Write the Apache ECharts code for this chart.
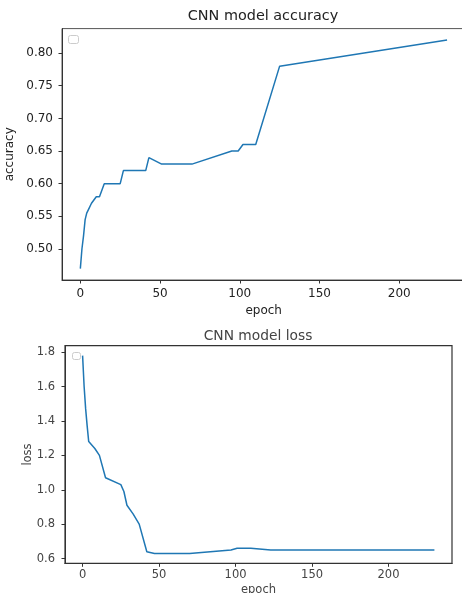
<!DOCTYPE html>
<html>
<head>
<meta charset="utf-8">
<script src="https://cdn.jsdelivr.net/npm/echarts@6/dist/echarts.min.js"></script>
<style>
    html, body { margin: 0; padding: 0; background: #fff; }
    #myChart { width: 462px; height: 593px; }
</style>
</head>
<body>
<div id="myChart"></div>
<script>
// accuracy curve (epoch, value)
var accEpochs = [0, 1, 2, 3, 4, 5, 7, 10, 12, 15, 25, 27, 41, 43, 51, 70, 95, 99, 102, 110, 125, 230];
var accValues = [0.47, 0.50, 0.52, 0.545, 0.555, 0.56, 0.57, 0.58, 0.58, 0.60, 0.60, 0.62, 0.62, 0.64, 0.63, 0.63, 0.65, 0.65, 0.66, 0.66, 0.78, 0.82];

// loss curve
var lossEpochs = [0, 1, 2, 3, 4, 8, 11, 15, 25, 27, 29, 33, 37, 42, 47, 70, 97, 101, 110, 123, 230];
var lossValues = [1.78, 1.60, 1.47, 1.37, 1.28, 1.24, 1.20, 1.07, 1.03, 0.99, 0.91, 0.86, 0.80, 0.64, 0.63, 0.63, 0.65, 0.66, 0.66, 0.65, 0.65];

// tick labels
var epochTicks = [0, 50, 100, 150, 200];
var accTicks = [0.50, 0.55, 0.60, 0.65, 0.70, 0.75, 0.80];
var lossTicks = [0.6, 0.8, 1.0, 1.2, 1.4, 1.6, 1.8];

function pairs(xs, ys) {
    var out = [];
    for (var i = 0; i < xs.length; i++) {
        out.push([xs[i], ys[i]]);
    }
    return out;
}

var font = 'DejaVu Sans';
var blue = '#1f77b4';

var myChart = echarts.init(document.getElementById('myChart'));

var option = {
    animation: false,
    title: [{
        text: 'CNN model accuracy',
        left: 263, top: 9, padding: 0, textAlign: 'center',
        textStyle: { fontFamily: font, fontSize: 14.4, fontWeight: 'normal', color: '#222' }
    }, {
        text: 'CNN model loss',
        left: 258, top: 329, padding: 0, textAlign: 'center',
        textStyle: { fontFamily: font, fontSize: 13.8, fontWeight: 'normal', color: '#444' }
    }],
    grid: [{
        left: 62, top: 28.6, width: 403.4, height: 251.4,
        outerBoundsMode: 'none', containLabel: false,
        show: true, borderColor: '#555', borderWidth: 1
    }, {
        left: 65, top: 345.7, width: 387, height: 217.6,
        outerBoundsMode: 'none', containLabel: false,
        show: true, borderColor: '#333', borderWidth: 1.2
    }],
    xAxis: [{
        type: 'value', gridIndex: 0, min: -11.5, max: 241.5,
        name: 'epoch', nameLocation: 'middle', nameGap: 25,
        nameTextStyle: { fontFamily: font, fontSize: 12, color: '#222' },
        splitLine: { show: false },
        axisLine: { show: true, onZero: false, lineStyle: { color: '#333' } },
        axisTick: { show: true, length: 3.5, customValues: epochTicks, lineStyle: { color: '#333' } },
        axisLabel: { customValues: epochTicks, margin: 8, fontFamily: font, fontSize: 12, color: '#222' }
    }, {
        type: 'value', gridIndex: 1, min: -11.5, max: 241.5,
        name: 'epoch', nameLocation: 'middle', nameGap: 21,
        nameTextStyle: { fontFamily: font, fontSize: 11.5, color: '#444' },
        splitLine: { show: false },
        axisLine: { show: true, onZero: false, lineStyle: { color: '#333' } },
        axisTick: { show: true, length: 3.5, customValues: epochTicks, lineStyle: { color: '#333' } },
        axisLabel: { customValues: epochTicks, margin: 6, fontFamily: font, fontSize: 11.5, color: '#444' }
    }],
    yAxis: [{
        type: 'value', gridIndex: 0, min: 0.4525, max: 0.8375,
        name: 'accuracy', nameLocation: 'middle', nameGap: 46, nameRotate: 90,
        nameTextStyle: { fontFamily: font, fontSize: 12, color: '#222' },
        splitLine: { show: false },
        axisLine: { show: true, onZero: false, lineStyle: { color: '#333' } },
        axisTick: { show: true, length: 3.5, customValues: accTicks, lineStyle: { color: '#333' } },
        axisLabel: {
            customValues: accTicks, margin: 9, fontFamily: font, fontSize: 12, color: '#222',
            formatter: function (v) { return v.toFixed(2); }
        }
    }, {
        type: 'value', gridIndex: 1, min: 0.5725, max: 1.8375,
        name: 'loss', nameLocation: 'middle', nameGap: 31, nameRotate: 90,
        nameMoveOverlap: false,
        nameTextStyle: { fontFamily: font, fontSize: 11.5, color: '#444' },
        splitLine: { show: false },
        axisLine: { show: true, onZero: false, lineStyle: { color: '#333' } },
        axisTick: { show: true, length: 3.5, customValues: lossTicks, lineStyle: { color: '#333' } },
        axisLabel: {
            customValues: lossTicks, margin: 10, fontFamily: font, fontSize: 11.5, color: '#444',
            formatter: function (v) { return v.toFixed(1); }
        }
    }],
    series: [{
        name: 'accuracy', type: 'line', xAxisIndex: 0, yAxisIndex: 0,
        data: pairs(accEpochs, accValues),
        showSymbol: false,
        lineStyle: { color: blue, width: 1.5 }
    }, {
        name: 'loss', type: 'line', xAxisIndex: 1, yAxisIndex: 1,
        data: pairs(lossEpochs, lossValues),
        showSymbol: false,
        lineStyle: { color: blue, width: 1.5 }
    }],
    // the empty legend boxes in the corners
    graphic: [{
        type: 'rect', left: 68, top: 35, shape: { width: 10, height: 8, r: 2 },
        style: { fill: '#fff', stroke: '#ccc', lineWidth: 1 }
    }, {
        type: 'rect', left: 72, top: 352, shape: { width: 8, height: 7, r: 2 },
        style: { fill: '#fff', stroke: '#ccc', lineWidth: 1 }
    }]
};

myChart.setOption(option);
</script>
</body>
</html>
